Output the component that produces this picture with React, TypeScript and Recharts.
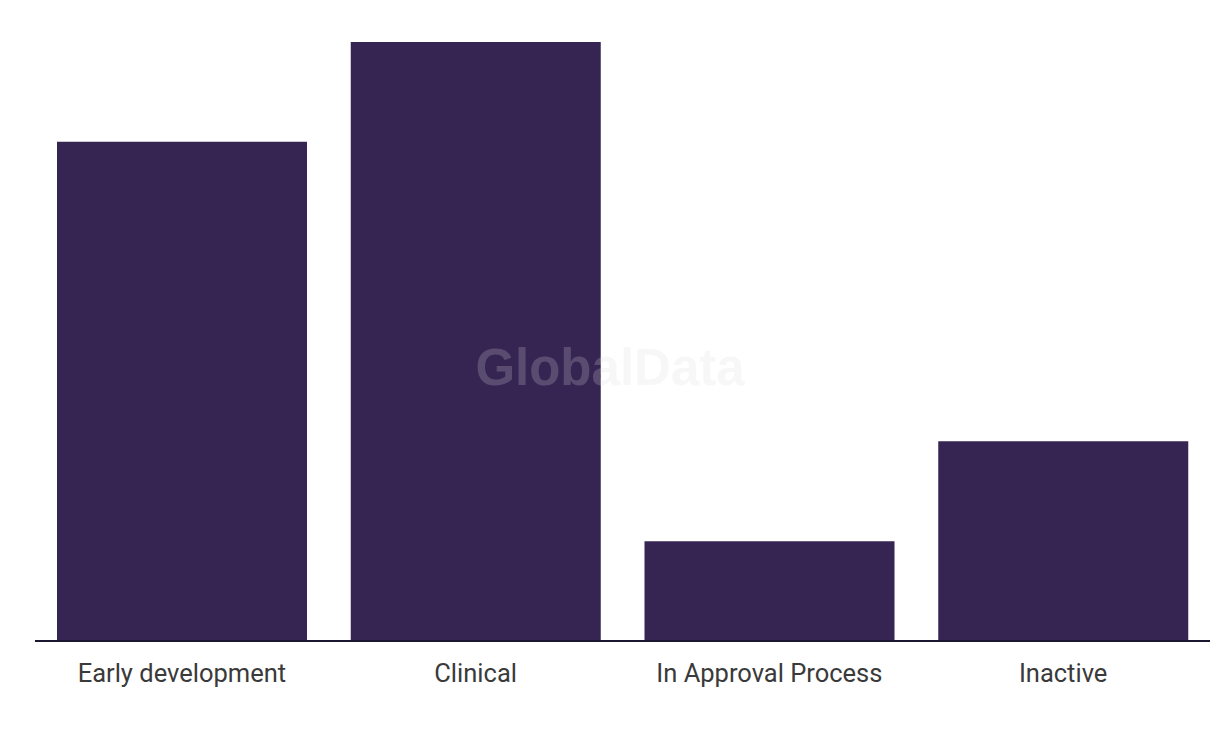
import { Bar, BarChart, XAxis, YAxis } from "recharts"

const stages = ["Early development", "Clinical", "In Approval Process", "Inactive"]
const counts = [5, 6, 1, 2]

const data = stages.map((stage, i) => ({ stage, count: counts[i] }))

export default function App() {
  return (
    <div style={{ margin: -8, width: 1220, height: 736, position: "relative", background: "#fff" }}>
      <BarChart width={1220} height={736} data={data} margin={{ top: 42, right: 10, left: 35, bottom: 35 }} barCategoryGap={22}>
        <XAxis
          dataKey="stage"
          tickLine={false}
          axisLine={{ stroke: "#1c1730", strokeWidth: 2 }}
          tickMargin={17}
          height={60}
          tick={{ fontSize: 25.5, fill: "#3a3a3a", fontFamily: "Roboto" }}
        />
        <YAxis hide domain={[0, 6]} />
        <Bar dataKey="count" fill="#362452" isAnimationActive={false} />
      </BarChart>
      {/* watermark sits over the bars */}
      <svg width={1220} height={736} style={{ position: "absolute", left: 0, top: 0, pointerEvents: "none" }}>
        <text
          x={610}
          y={385}
          textAnchor="middle"
          fontFamily="Liberation Sans, Arial, sans-serif"
          fontWeight="bold"
          fontSize={51}
          fill="#dbdbdb"
          fillOpacity={0.22}
        >
          GlobalData
        </text>
      </svg>
    </div>
  )
}
